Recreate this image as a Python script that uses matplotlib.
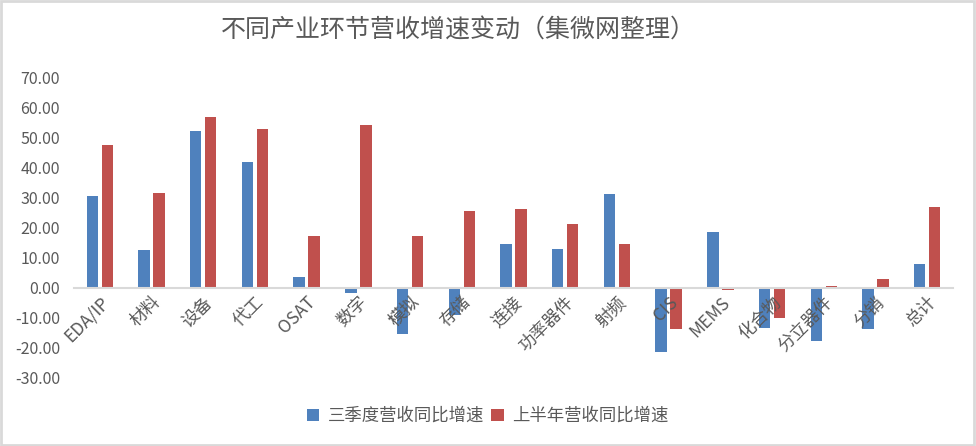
import matplotlib
matplotlib.use("Agg")
import matplotlib.pyplot as plt
from matplotlib.patches import Patch, Rectangle
import numpy as np

plt.rcParams['font.family'] = ['Noto Sans CJK SC', 'DejaVu Sans']

categories = ["EDA/IP", "材料", "设备", "代工", "OSAT", "数字", "模拟", "存储", "连接",
              "功率器件", "射频", "CIS", "MEMS", "化合物", "分立器件", "分销", "总计"]
q3_growth = [30.6, 12.6, 52.2, 41.9, 3.7, -1.7, -15.3, -9.0, 14.6,
             13.0, 31.2, -21.3, 18.6, -13.3, -17.6, -13.6, 8.0]
h1_growth = [47.5, 31.6, 56.8, 52.8, 17.3, 54.2, 17.3, 25.6, 26.2,
             21.3, 14.6, -13.6, -0.9, -10.0, 0.7, 3.0, 26.9]
series_names = ["三季度营收同比增速", "上半年营收同比增速"]
title = "不同产业环节营收增速变动（集微网整理）"

blue = "#4F81BD"
red = "#C0504D"
text_gray = "#595959"
line_gray = "#D9D9D9"

fig = plt.figure(figsize=(9.76, 4.46), dpi=100)
ax = fig.add_axes([74/976, 1-378/446, (953-74)/976, (378-77)/446])

x = np.arange(len(categories))
w = 0.22
off = 0.145
ax.bar(x - off, q3_growth, width=w, color=blue, zorder=1)
ax.bar(x + off, h1_growth, width=w, color=red, zorder=1)

ax.set_xlim(-0.5, len(categories) - 0.5)
ax.set_ylim(-30, 70)
ax.set_yticks(np.arange(-30, 71, 10))
ax.set_yticklabels([f"{v:.2f}" for v in np.arange(-30, 71, 10)])

for s in ['top', 'right', 'left']:
    ax.spines[s].set_visible(False)
ax.spines['bottom'].set_position(('data', 0))
ax.spines['bottom'].set_color(line_gray)
ax.spines['bottom'].set_linewidth(1.5)
ax.spines['bottom'].set_zorder(3)

ax.set_xticks(x)
ax.set_xticklabels(categories, rotation=45, ha='right', rotation_mode='anchor')
ax.tick_params(axis='x', length=0, pad=4, labelsize=12.5, labelcolor=text_gray)
ax.tick_params(axis='y', length=0, pad=10, labelsize=11.5, labelcolor=text_gray)
ax.xaxis.set_zorder(5)

fig.text(458/976, 1-31/446, title, ha='center', va='center', fontsize=18.0, color=text_gray)

handles = [Patch(facecolor=blue, edgecolor='none'), Patch(facecolor=red, edgecolor='none')]
fig.legend(handles, series_names, loc='center', bbox_to_anchor=(0.5, 1-416/446), ncol=2,
           frameon=False, fontsize=12.5, labelcolor=text_gray, handlelength=0.7,
           handleheight=0.7, handletextpad=0.5, columnspacing=0.4)

fig.patches.append(Rectangle((0.001, 0.002), 0.997, 0.996, transform=fig.transFigure,
                             fill=False, edgecolor=line_gray, linewidth=2))

fig.savefig("out.png", dpi=100)
